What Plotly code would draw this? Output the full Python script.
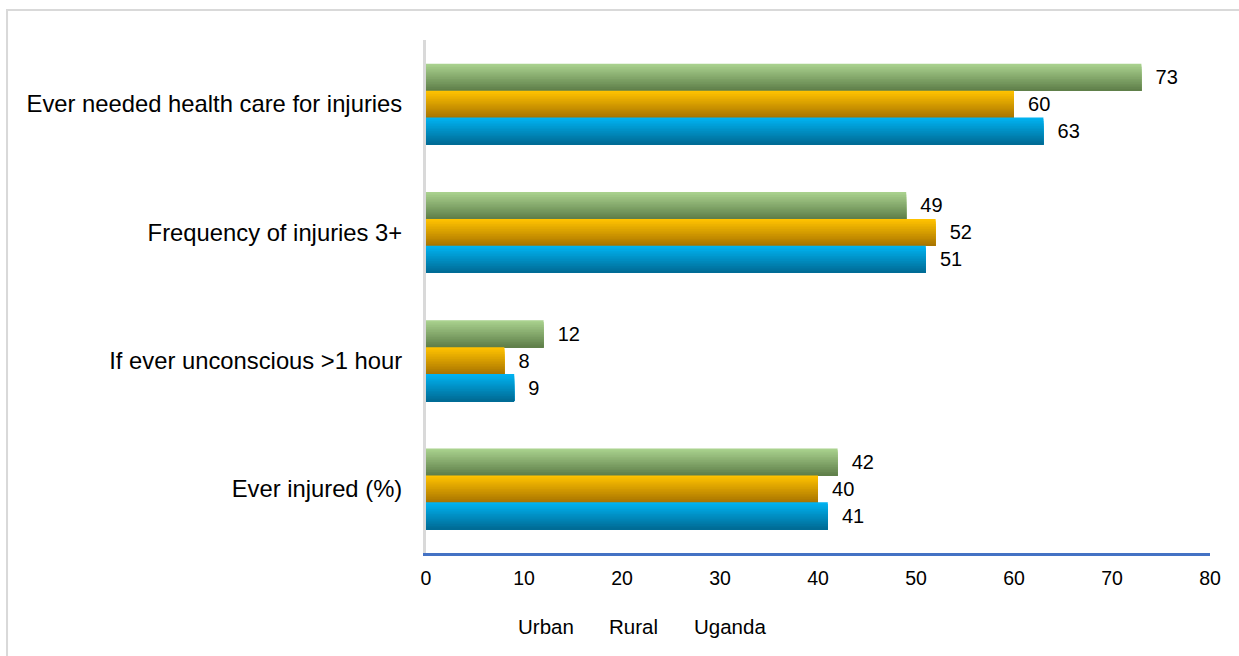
import plotly.graph_objects as go

# Injury indicators by residence (percent)
categories = [
    "Ever injured (%)",
    "If ever unconscious >1 hour",
    "Frequency of injuries 3+",
    "Ever needed health care for injuries",
]
urban = [42, 12, 49, 73]
rural = [40, 8, 52, 60]
uganda = [41, 9, 51, 63]
x_ticks = [0, 10, 20, 30, 40, 50, 60, 70, 80]

FONT = "Liberation Sans, Arial, sans-serif"
BAR_H = 0.21          # thickness of one bar, in category units
N_STRIPS = 16         # layers used to shade each bar from top to bottom

# (name, values, top colour, bottom colour, top edge offset from category centre)
series = [
    ("Urban", urban, (169, 209, 142), (96, 128, 74), 1.5 * BAR_H),
    ("Rural", rural, (255, 194, 0), (170, 118, 0), 0.5 * BAR_H),
    ("Uganda", uganda, (0, 178, 240), (0, 108, 150), -0.5 * BAR_H),
]
# left edges of the key labels under the axis (paper fraction)
key_x = [0.1148, 0.2309, 0.3393]


def mix(c1, c2, t):
    return "rgb({},{},{})".format(*[round(a + (b - a) * t) for a, b in zip(c1, c2)])


fig = go.Figure()

for name, vals, top_c, bot_c, top_off in series:
    strip = BAR_H / N_STRIPS
    bottom = top_off - BAR_H
    # each layer runs from its own top edge down to the bar's bottom edge,
    # so successive layers overlap and leave no seams
    for k in range(N_STRIPS):
        fig.add_trace(go.Bar(
            y=categories, x=vals, orientation="h", name=name,
            width=BAR_H - k * strip,
            offset=bottom,
            marker=dict(color=mix(top_c, bot_c, k / (N_STRIPS - 1)), line=dict(width=0)),
            showlegend=False, hoverinfo="skip",
        ))
    # value labels just past the end of each bar
    fig.add_trace(go.Bar(
        y=categories, x=vals, orientation="h", name=name,
        width=BAR_H, offset=bottom,
        marker=dict(color="rgba(0,0,0,0)", line=dict(width=0)),
        text=["\u00a0\u00a0" + str(v) for v in vals],
        textposition="outside", constraintext="none", cliponaxis=False,
        textfont=dict(family=FONT, size=20, color="#000000"),
        showlegend=False, hoverinfo="skip",
    ))

# series key: names only, set in a row under the axis
annotations = [
    dict(text=name, xref="paper", yref="paper", x=kx, y=-0.1442,
         xanchor="left", yanchor="middle", showarrow=False,
         font=dict(family=FONT, size=20.5, color="#000000"))
    for (name, *_), kx in zip(series, key_x)
]

fig.update_layout(
    width=1239, height=656,
    margin=dict(l=426, r=29, t=40, b=103),
    paper_bgcolor="white", plot_bgcolor="white",
    barmode="overlay",
    font=dict(family=FONT, size=20, color="#000000"),
    showlegend=False,
    annotations=annotations,
    xaxis=dict(
        range=[0, 80], tickvals=x_ticks, ticktext=[str(t) for t in x_ticks],
        showgrid=False, zeroline=False,
        showline=True, linecolor="#4472C4", linewidth=3,
        ticks="", ticklabelstandoff=6,
        tickfont=dict(family=FONT, size=19.5, color="#000000"),
    ),
    yaxis=dict(
        categoryorder="array", categoryarray=categories,
        range=[-0.5, 3.5],
        showgrid=False, zeroline=False,
        showline=True, linecolor="#D9D9D9", linewidth=3,
        ticks="", ticklabelstandoff=16,
        tickfont=dict(family=FONT, size=23.8, color="#000000"),
    ),
    shapes=[dict(
        type="rect", xref="paper", yref="paper",
        x0=-0.5344, x1=1.2, y0=-0.4, y1=1.0585,
        line=dict(color="#D9D9D9", width=2), fillcolor="rgba(0,0,0,0)",
        layer="below",
    )],
)

fig.write_html("out.html")
